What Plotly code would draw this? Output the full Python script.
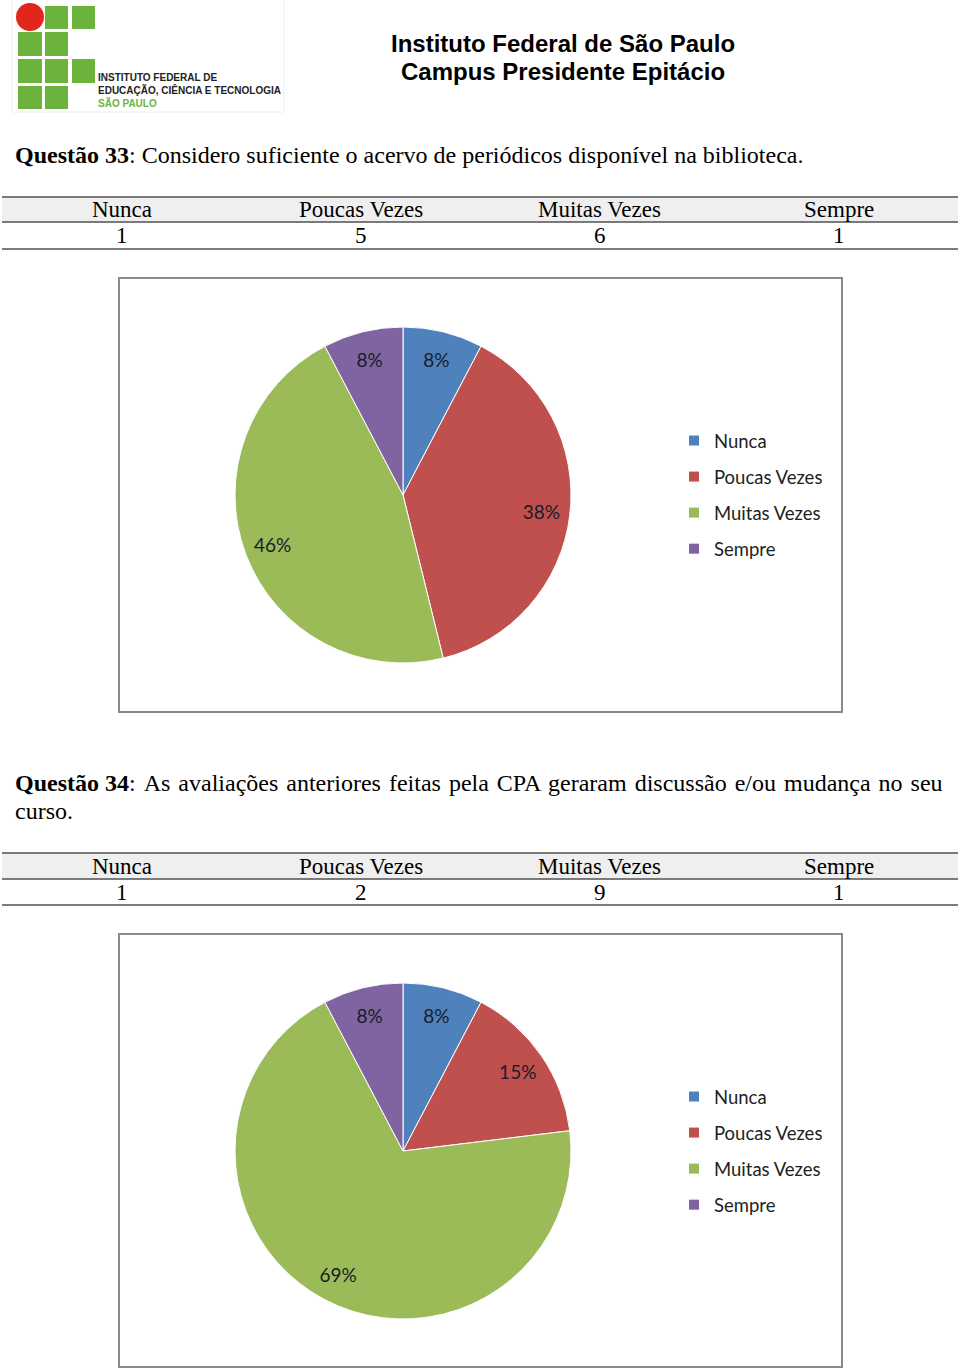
import plotly.graph_objects as go

W, H = 960, 1369

categories = ["Nunca", "Poucas Vezes", "Muitas Vezes", "Sempre"]
q33_values = [1, 5, 6, 1]
q34_values = [1, 2, 9, 1]
colors = ["#4F81BD", "#C0504D", "#9BBB59", "#8064A2"]

header_lines = ["Instituto Federal de São Paulo", "Campus Presidente Epitácio"]
logo_lines = ["INSTITUTO FEDERAL DE", "EDUCAÇÃO, CIÊNCIA E TECNOLOGIA", "SÃO PAULO"]
q33_label = "Questão 33"
q33_text = ": Considero suficiente o acervo de periódicos disponível na biblioteca."
q34_label = "Questão 34"
q34_line1 = ": As avaliações anteriores feitas pela CPA geraram discussão e/ou mudança no seu"
q34_line2 = "curso."


def X(px):
    return px / W


def Y(py):
    return 1 - py / H


fig = go.Figure()
shapes = []
annotations = []

SERIF = "Liberation Serif, Times New Roman, serif"
SANS = "Liberation Sans, Arial, sans-serif"
CHART_FONT = "Lato, Open Sans, sans-serif"

# ---------- Logo ----------
shapes.append(dict(type="rect", xref="paper", yref="paper",
                   x0=X(12), x1=X(284), y0=Y(112), y1=Y(-2),
                   fillcolor="#FFFFFF", line=dict(color="#ECECEC", width=1), layer="below"))
green = "#6CB33E"
cols = [(18, 42), (45, 68), (72, 95)]
rows = [(6, 29), (32, 56), (59, 83), (86, 109)]
grid = [(0, 1), (0, 2), (1, 0), (1, 1), (2, 0), (2, 1), (2, 2), (3, 0), (3, 1)]
for r, c in grid:
    x0, x1 = cols[c]
    y0, y1 = rows[r]
    shapes.append(dict(type="rect", xref="paper", yref="paper",
                       x0=X(x0), x1=X(x1), y0=Y(y1), y1=Y(y0),
                       fillcolor=green, line=dict(width=0), layer="above"))
shapes.append(dict(type="circle", xref="paper", yref="paper",
                   x0=X(16), x1=X(44), y0=Y(31), y1=Y(3),
                   fillcolor="#E3261B", line=dict(width=0), layer="above"))
logo_y = [77, 90, 103]
logo_col = ["#222222", "#222222", "#6CB33E"]
for t, yy, cc in zip(logo_lines, logo_y, logo_col):
    annotations.append(dict(text="<b>%s</b>" % t, xref="paper", yref="paper",
                            x=X(96), y=Y(yy), xanchor="left", yanchor="middle",
                            showarrow=False, font=dict(family=SANS, size=10, color=cc)))

# ---------- Header ----------
for t, yy in zip(header_lines, [44, 72]):
    annotations.append(dict(text="<b>%s</b>" % t, xref="paper", yref="paper",
                            x=X(563), y=Y(yy), xanchor="center", yanchor="middle",
                            showarrow=False, font=dict(family=SANS, size=24, color="#000")))

# ---------- Question texts ----------
QF = dict(family=SERIF, size=24, color="#000")
annotations.append(dict(text="<b>%s</b>%s" % (q33_label, q33_text), xref="paper", yref="paper",
                        x=X(13), y=Y(155), xanchor="left", yanchor="middle", showarrow=False,
                        font=QF))
# justified first line: widen each word gap slightly with a hair space
just = q34_line1.replace(" ", " \u200a")
annotations.append(dict(text="<b>%s</b>%s" % (q34_label, just), xref="paper", yref="paper",
                        x=X(13), y=Y(783), xanchor="left", yanchor="middle", showarrow=False,
                        font=QF))
annotations.append(dict(text=q34_line2, xref="paper", yref="paper",
                        x=X(13), y=Y(811), xanchor="left", yanchor="middle", showarrow=False,
                        font=QF))


# ---------- Tables ----------
def table(top, mid, bot, values):
    shapes.append(dict(type="rect", xref="paper", yref="paper", x0=X(2), x1=X(958),
                       y0=Y(mid), y1=Y(top), fillcolor="#EFEFEF", line=dict(width=0), layer="below"))
    for yy in (top, mid, bot):
        shapes.append(dict(type="line", xref="paper", yref="paper", x0=X(2), x1=X(958),
                           y0=Y(yy), y1=Y(yy), line=dict(color="#505050", width=1.5)))
    colw = (958 - 2) / 4
    for i, (cat, v) in enumerate(zip(categories, values)):
        cx = 2 + colw * (i + 0.5)
        annotations.append(dict(text=cat, xref="paper", yref="paper", x=X(cx),
                                y=Y((top + mid) / 2 + 0.5), xanchor="center", yanchor="middle",
                                showarrow=False, font=dict(family=SERIF, size=23, color="#000")))
        annotations.append(dict(text=str(v), xref="paper", yref="paper", x=X(cx),
                                y=Y((mid + bot) / 2 + 0.5), xanchor="center", yanchor="middle",
                                showarrow=False, font=dict(family=SERIF, size=23, color="#000")))


table(197, 222, 249, q33_values)
table(853, 879, 905, q34_values)

# ---------- Chart boxes ----------
for top, bot in ((278, 712), (934, 1367)):
    shapes.append(dict(type="rect", xref="paper", yref="paper", x0=X(119), x1=X(842),
                       y0=Y(bot), y1=Y(top), line=dict(color="#8A8A8A", width=2),
                       fillcolor="rgba(0,0,0,0)"))

# ---------- Pies ----------
R = 168
for vals, cy in ((q33_values, 495), (q34_values, 1151)):
    dom = dict(x=[X(403 - R), X(403 + R)], y=[Y(cy + R), Y(cy - R)])
    # full pie (fill)
    fig.add_trace(go.Pie(
        labels=categories, values=vals, sort=False, direction="clockwise", rotation=0,
        marker=dict(colors=colors, line=dict(color="#FFFFFF", width=1)),
        textinfo="none", domain=dom, showlegend=False,
        hoverinfo="label+value+percent",
    ))
    # transparent ring overlay carrying the percentage labels near the rim
    fig.add_trace(go.Pie(
        labels=categories, values=vals, sort=False, direction="clockwise", rotation=0,
        hole=0.66,
        marker=dict(colors=["rgba(0,0,0,0)"] * len(vals), line=dict(width=0)),
        texttemplate="%{percent:.0%}", textposition="inside",
        insidetextorientation="horizontal",
        textfont=dict(family=CHART_FONT, size=19, color="#1A1A2A"),
        domain=dom, showlegend=False, hoverinfo="skip",
    ))

# ---------- Legends (one per chart) ----------
for lg in ("legend", "legend2"):
    for cat, col in zip(categories, colors):
        fig.add_trace(go.Scatter(
            x=[None], y=[None], mode="markers", name=cat,
            marker=dict(symbol="square", size=10, color=col),
            legend=lg, legendgroup=lg + cat, showlegend=True,
        ))

legend_common = dict(font=dict(family=CHART_FONT, size=18.5, color="#222"),
                     bgcolor="rgba(0,0,0,0)", borderwidth=0, tracegroupgap=9,
                     xanchor="left", yanchor="top", itemwidth=30)

fig.update_layout(
    width=W, height=H, autosize=False,
    margin=dict(l=0, r=0, t=0, b=0),
    paper_bgcolor="#FFFFFF", plot_bgcolor="#FFFFFF",
    xaxis=dict(visible=False), yaxis=dict(visible=False),
    shapes=shapes, annotations=annotations,
    legend=dict(x=X(674), y=Y(422), **legend_common),
    legend2=dict(x=X(674), y=Y(1078), **legend_common),
)

fig.write_html("out.html")
